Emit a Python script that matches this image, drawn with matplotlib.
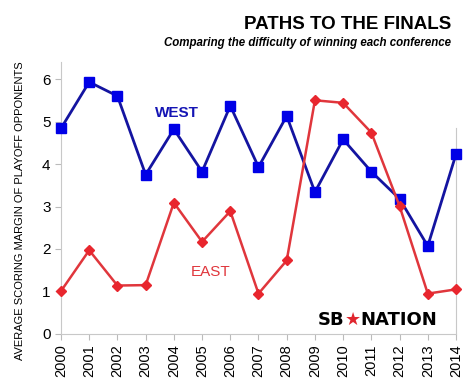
import matplotlib.pyplot as plt

# Données
annees = list(range(2000, 2015))
ouest = [4.84, 5.93, 5.60, 3.75, 4.82, 3.82, 5.37, 3.93, 5.13, 3.34, 4.58, 3.82, 3.18, 2.07, 4.23]
est = [1.01, 1.97, 1.14, 1.15, 3.09, 2.17, 2.89, 0.95, 1.73, 5.50, 5.44, 4.74, 3.01, 0.95, 1.05]

plt.rcParams["font.family"] = ["Liberation Sans", "DejaVu Sans"]

fig = plt.figure(figsize=(4.74, 3.83), dpi=100)
ax = fig.add_axes([0.1287, 0.128, 0.8333, 0.710])

ax.plot(annees, ouest, color="#1414a0", lw=2, marker="s", ms=7.5,
        mfc="#0000e6", mec="#0000e6", clip_on=False, zorder=3)
ax.plot(annees, est, color="#e0363c", lw=1.8, marker="D", ms=5,
        mfc="#e8262e", mec="#e8262e", clip_on=False, zorder=3)

ax.set_xlim(2000, 2014)
ax.set_ylim(0, 6.4)
ax.set_xticks(annees)
ax.set_xticklabels([str(a) for a in annees], rotation=90, fontsize=10.5)
ax.set_yticks(range(0, 7))
ax.tick_params(axis="y", labelsize=11, length=4, color="#bbbbbb")
ax.tick_params(axis="x", length=4, color="#bbbbbb")

ax.spines["top"].set_visible(False)
for cote in ["left", "bottom", "right"]:
    ax.spines[cote].set_color("#c8c8c8")
ax.spines["right"].set_bounds(0, 4.85)

ax.set_ylabel("AVERAGE SCORING MARGIN OF PLAYOFF OPPONENTS", fontsize=8)
ax.yaxis.set_label_coords(-0.091, 0.455)

ax.text(2004.1, 5.2, "WEST", color="#1414b4", fontsize=11, fontweight="bold", ha="center", va="center")
ax.text(2005.3, 1.45, "EAST", color="#e0363c", fontsize=11, ha="center", va="center")

# Titres
fig.text(0.951, 0.935, "PATHS TO THE FINALS", fontsize=13.5, ha="right", va="center",
         fontweight="bold", family=["Liberation Sans Narrow", "Liberation Sans"])
fig.text(0.951, 0.887, "Comparing the difficulty of winning each conference", fontsize=8.3,
         ha="right", va="center", style="italic", fontweight="bold")

# Logo SB Nation
t1 = ax.text(2009.1, 0.22, "SB", fontsize=13, fontweight="heavy", family="DejaVu Sans",
             va="baseline", ha="left")
t2 = ax.annotate("★", xy=(1, 0), xycoords=t1, va="bottom", ha="left", color="#e0262e",
                 fontsize=13, family="DejaVu Sans", fontweight="heavy")
ax.annotate("NATION", xy=(1, 0), xycoords=t2, va="bottom", ha="left", fontsize=13,
            fontweight="heavy", family="DejaVu Sans")

fig.savefig("out.png", dpi=100)
